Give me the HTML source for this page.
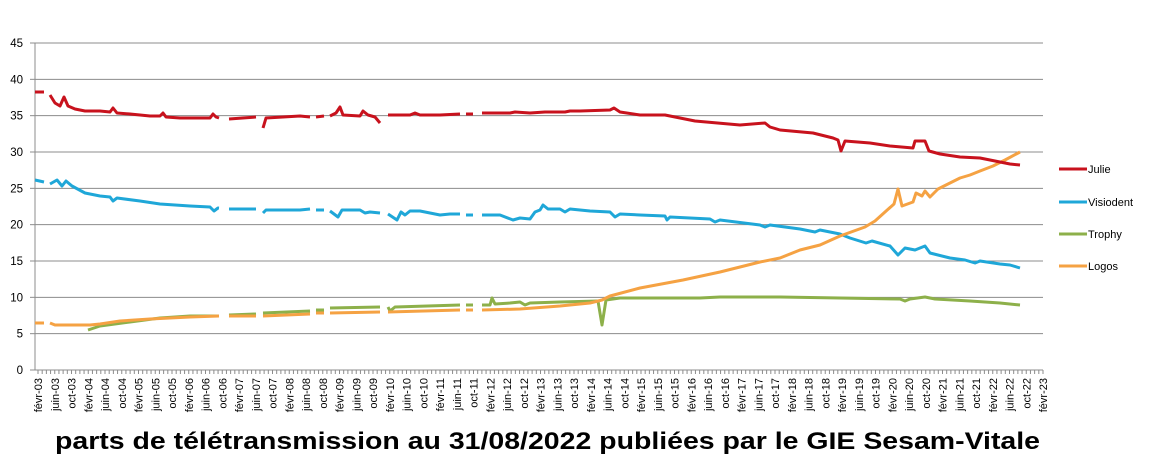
<!DOCTYPE html>
<html><head><meta charset="utf-8"><style>
html,body{margin:0;padding:0;background:#fff}
svg{display:block;font-family:"Liberation Sans",sans-serif}
</style></head><body>
<svg id="s" width="1158" height="475" xmlns="http://www.w3.org/2000/svg"></svg>
<script>
const s=document.getElementById('s');let h='';
const Y0=370,PU=(370-43)/45;
for(let v=0;v<=45;v+=5){const y=Y0-v*PU;
 if(v>0)h+=`<line x1="35" y1="${y}" x2="1043" y2="${y}" stroke="#8c8c8c" stroke-width="1"/>`;
 h+=`<line x1="30" y1="${y}" x2="35" y2="${y}" stroke="#8c8c8c"/>`;
 h+=`<text x="23" y="${y+4}" font-size="11.5" text-anchor="end">${v}</text>`;}
h+=`<line x1="35" y1="43" x2="35" y2="370" stroke="#8c8c8c"/><line x1="35" y1="370" x2="1043" y2="370" stroke="#8c8c8c"/>`;
const mo=['févr','juin','oct'];
for(let m=0;m<=240;m++){const x=38+m*4.1875;h+=`<line x1="${x}" y1="370" x2="${x}" y2="374" stroke="#8c8c8c"/>`;
 if(m%4==0){const k=m/4;const yr=3+Math.floor(k/3);const lab=mo[k%3]+'-'+String(yr).padStart(2,'0');
 h+=`<text transform="translate(${x+4},378) rotate(-90)" font-size="11" text-anchor="end">${lab}</text>`;}}
const segs=[[35,44],[50,219],[229,256],[263,310],[316,324],[330,380],[388,460],[466,473],[482,1020]];
function interp(p,x){for(let i=0;i<p.length-1;i++){if(x>=p[i][0]&&x<=p[i+1][0]){const t=(x-p[i][0])/((p[i+1][0]-p[i][0])||1);return p[i][1]+t*(p[i+1][1]-p[i][1]);}}return null;}
function draw(p,c){const x0=p[0][0],x1=p[p.length-1][0];
 for(const [a0,b0] of segs){const a=Math.max(a0,x0),b=Math.min(b0,x1);if(b<=a)continue;
  const pts=[[a,interp(p,a)]];for(const q of p)if(q[0]>a&&q[0]<b)pts.push(q);pts.push([b,interp(p,b)]);
  h+=`<polyline points="${pts.map(q=>q.join(',')).join(' ')}" fill="none" stroke="${c}" stroke-width="3" stroke-linejoin="round"/>`;}}
const julie=[[35,92],[44,92],[50,95],[55,103],[60,106],[64,97],[68,106],[75,109],[85,111],[100,111],[110,112],[113,108],[117,113],[130,114],[150,116],[160,116],[163,113],[166,117],[180,118],[210,118],[213,114],[216,117],[219,118],[229,119],[256,117],[263,128],[266,118],[300,116],[310,117],[316,117],[324,116],[330,116],[336,113],[340,107],[343,115],[360,116],[363,111],[368,115],[375,117],[380,123],[388,115],[410,115],[415,113],[420,115],[440,115],[460,114],[466,114],[473,114],[482,113],[510,113],[515,112],[530,113],[545,112],[565,112],[570,111],[580,111],[610,110],[614,108],[620,112],[640,115],[665,115],[695,121],[740,125],[765,123],[770,127],[780,130],[813,133],[833,138],[838,140],[841,151],[845,141],[870,143],[890,146],[913,148],[915,141],[925,141],[929,151],[940,154],[960,157],[980,158],[1000,162],[1010,164],[1020,165]];
const vis=[[35,180],[44,182],[50,184],[57,180],[62,186],[66,181],[72,186],[85,193],[100,196],[110,197],[113,201],[117,198],[140,201],[160,204],[190,206],[210,207],[214,211],[218,208],[229,209],[256,209],[263,213],[266,210],[300,210],[310,209],[316,210],[324,210],[330,211],[338,217],[342,210],[360,210],[365,213],[370,212],[380,213],[388,214],[397,220],[401,212],[405,215],[410,211],[420,211],[430,213],[440,215],[450,214],[460,214],[466,215],[473,215],[482,215],[500,215],[513,220],[520,218],[530,219],[535,212],[540,210],[543,205],[548,209],[560,209],[565,212],[570,209],[590,211],[610,212],[615,217],[620,214],[640,215],[665,216],[667,220],[670,217],[710,219],[715,222],[720,220],[760,225],[765,227],[770,225],[800,229],[815,232],[820,230],[840,234],[850,238],[866,243],[872,241],[890,246],[898,255],[905,248],[915,250],[925,246],[930,253],[950,258],[965,260],[975,263],[980,261],[1000,264],[1010,265],[1020,268]];
const tro=[[88,330],[100,326],[130,322],[160,318],[190,316],[219,316],[229,315],[256,314],[263,313],[310,311],[316,310],[324,310],[330,308],[380,307],[388,307],[390,311],[395,307],[460,305],[466,305],[473,305],[482,305],[490,305],[492,298],[495,304],[510,303],[520,302],[525,305],[530,303],[560,302],[598,301],[602,325],[606,300],[620,298],[700,298],[720,297],[780,297],[840,298],[900,299],[905,301],[910,299],[925,297],[935,299],[970,301],[1000,303],[1020,305]];
const logo=[[35,323],[44,323],[50,323],[55,325],[90,325],[100,324],[120,321],[150,319],[190,317],[219,316],[229,316],[256,316],[263,316],[310,314],[316,313],[324,313],[330,313],[380,312],[388,312],[460,310],[466,310],[473,310],[482,310],[520,309],[560,306],[590,303],[602,300],[610,296],[640,288],[683,280],[720,272],[760,262],[780,258],[800,250],[820,245],[840,236],[865,227],[875,221],[885,212],[894,204],[898,189],[902,206],[913,202],[916,193],[922,196],[925,191],[930,197],[938,189],[950,183],[960,178],[970,175],[980,171],[993,166],[1005,160],[1020,152]];
draw(tro,'#8db04a');draw(vis,'#1fa7d8');draw(logo,'#f5a243');draw(julie,'#c8121d');
const lg=[['Julie','#c8121d',169],['Visiodent','#1fa7d8',202],['Trophy','#8db04a',234],['Logos','#f5a243',266]];
for(const [n,c,y] of lg){h+=`<line x1="1059" y1="${y}" x2="1087" y2="${y}" stroke="${c}" stroke-width="3"/><text x="1088" y="${y+4}" font-size="11">${n}</text>`;}
h+=`<text x="55" y="449" font-size="24" font-weight="bold" textLength="985" lengthAdjust="spacingAndGlyphs">parts de télétransmission au 31/08/2022 publiées par le GIE Sesam-Vitale</text>`;
s.innerHTML=h;
</script>
</body></html>
